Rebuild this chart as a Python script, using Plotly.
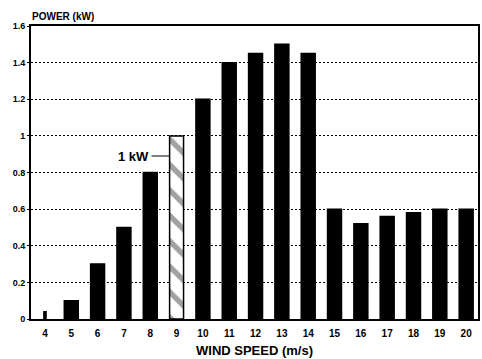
import plotly.graph_objects as go

wind_speed = [4, 5, 6, 7, 8, 9, 10, 11, 12, 13, 14, 15, 16, 17, 18, 19, 20]
power_kw = [0.04, 0.1, 0.3, 0.5, 0.8, 1.0, 1.2, 1.4, 1.45, 1.5, 1.45, 0.6, 0.52, 0.56, 0.58, 0.6, 0.6]
y_ticks = [0, 0.2, 0.4, 0.6, 0.8, 1.0, 1.2, 1.4, 1.6]
y_tick_labels = ["0", "0.2", "0.4", "0.6", "0.8", "1", "1.2", "1.4", "1.6"]
rated_speed = 9

widths = [0.08 if s == 4 else 0.53 for s in wind_speed]
fills = ["white" if s == rated_speed else "black" for s in wind_speed]
shapes = ["\\" if s == rated_speed else "" for s in wind_speed]

fig = go.Figure()
fig.add_trace(go.Bar(
    x=wind_speed, y=power_kw, width=widths,
    marker=dict(color=fills, line=dict(color="black", width=1.5),
                pattern=dict(shape=shapes, fgcolor="black", bgcolor="white", size=18, solidity=0.3)),
    showlegend=False, hoverinfo="skip",
))

font_family = "Liberation Sans, Arial, sans-serif"
fig.update_layout(
    width=482, height=359,
    margin=dict(l=31, r=2, t=26, b=40),
    paper_bgcolor="white", plot_bgcolor="white",
    font=dict(family=font_family, color="black"),
    xaxis=dict(range=[3.47, 20.45], tickmode="array", tickvals=wind_speed,
               ticktext=[str(s) for s in wind_speed], showgrid=False, zeroline=False,
               showline=True, linecolor="black", linewidth=2, mirror=True,
               tickfont=dict(size=10, weight="bold"), ticks="outside", ticklen=4, tickcolor="white"),
    yaxis=dict(range=[0, 1.6], tickmode="array", tickvals=y_ticks, ticktext=y_tick_labels,
               showgrid=True, gridcolor="black", griddash="2px,2px", gridwidth=1,
               zeroline=False, showline=True, linecolor="black", linewidth=2, mirror=True,
               tickfont=dict(size=9, weight="bold"), ticks="outside", ticklen=2, tickcolor="black"),
    annotations=[
        dict(text="POWER (kW)", x=-0.002, y=1.0, xref="paper", yref="paper", xanchor="left",
             yanchor="bottom", yshift=2, showarrow=False, font=dict(size=10, weight="bold")),
        dict(text="WIND SPEED (m/s)", x=0.5, y=0, xref="paper", yref="paper", xanchor="center",
             yanchor="top", yshift=-22, showarrow=False, font=dict(size=13, weight="bold")),
        dict(text="1 kW", x=rated_speed - 0.27, y=0.89, xref="x", yref="y", ax=-18, ay=0,
             showarrow=True, arrowhead=0, arrowwidth=1.2, arrowcolor="black",
             xanchor="right", font=dict(size=13, weight="bold"), standoff=0),
    ],
)
fig.write_html("out.html", config={"displayModeBar": False},
               post_script="document.body.style.margin='0px';")
